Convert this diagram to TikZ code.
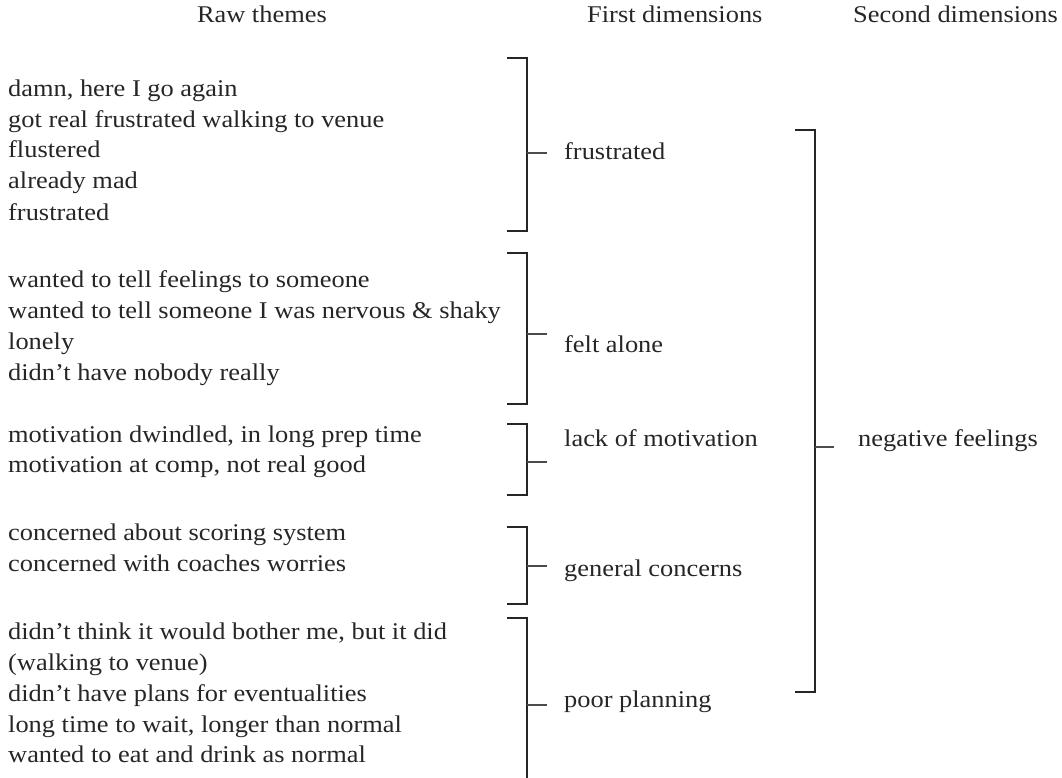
\documentclass[tikz,border=0pt]{standalone}
\usepackage{fontspec}
\setmainfont{Liberation Serif}[FakeStretch=1.1]
\usetikzlibrary{calc}
\begin{document}
\begin{tikzpicture}[x=1pt,y=-1pt,
  txt/.style={inner sep=0pt,font=\fontsize{24}{28}\selectfont,text=black!85},
  theme/.style={txt,anchor=base west},
  dimlabel/.style={txt,anchor=base west},
  brace/.style={draw=black!85,line width=1.4pt},
  stub/.style={draw=black!70,line width=1.2pt}]
\useasboundingbox (0,0) rectangle (1062,778);

% column headings
\node[txt,anchor=base east] (h1) at (327,23) {Raw themes};
\node[txt,anchor=base west] (h2) at (587,23) {First dimensions};
\node[txt,anchor=base east] (h3) at (1058,23) {Second dimensions};

% raw themes
\node[theme] (t1)  at (8,97)  {damn, here I go again};
\node[theme] (t2)  at (8,128) {got real frustrated walking to venue};
\node[theme] (t3)  at (8,158) {flustered};
\node[theme] (t4)  at (8,189) {already mad};
\node[theme] (t5)  at (8,220) {frustrated};
\node[theme] (t6)  at (8,287) {wanted to tell feelings to someone};
\node[theme] (t7)  at (8,318) {wanted to tell someone I was nervous \& shaky};
\node[theme] (t8)  at (8,349) {lonely};
\node[theme] (t9)  at (8,380) {didn't have nobody really};
\node[theme] (t10) at (8,442) {motivation dwindled, in long prep time};
\node[theme] (t11) at (8,472) {motivation at comp, not real good};
\node[theme] (t12) at (8,540) {concerned about scoring system};
\node[theme] (t13) at (8,571) {concerned with coaches worries};
\node[theme] (t14) at (8,639) {didn't think it would bother me, but it did};
\node[theme] (t15) at (8,670) {(walking to venue)};
\node[theme] (t16) at (8,701) {didn't have plans for eventualities};
\node[theme] (t17) at (8,732) {long time to wait, longer than normal};
\node[theme] (t18) at (8,762) {wanted to eat and drink as normal};

% first dimensions
\node[dimlabel] (d1) at (564,160) {frustrated};
\node[dimlabel] (d2) at (564,352) {felt alone};
\node[dimlabel] (d3) at (564,446) {lack of motivation};
\node[dimlabel] (d4) at (564,576) {general concerns};
\node[dimlabel] (d5) at (564,707) {poor planning};

% second dimension
\node[dimlabel] (s1) at (858,446) {negative feelings};

% bracket corners and stub ends
\coordinate (b1t) at (527,58);  \coordinate (b1b) at (527,231); \coordinate (b1m) at (527,153); \coordinate (b1e) at (547,153);
\coordinate (b2t) at (527,253); \coordinate (b2b) at (527,404); \coordinate (b2m) at (527,334); \coordinate (b2e) at (547,334);
\coordinate (b3t) at (527,424); \coordinate (b3b) at (527,495); \coordinate (b3m) at (527,462); \coordinate (b3e) at (547,462);
\coordinate (b4t) at (527,527); \coordinate (b4b) at (527,604); \coordinate (b4m) at (527,566); \coordinate (b4e) at (547,566);
\coordinate (b5t) at (527,618); \coordinate (b5b) at (527,790); \coordinate (b5m) at (527,705); \coordinate (b5e) at (547,705);
\coordinate (bNt) at (815,130); \coordinate (bNb) at (815,692); \coordinate (bNm) at (815,447); \coordinate (bNe) at (834,447);

% first-level brackets
\foreach \b in {b1,b2,b3,b4} {
  \draw[brace] ($(\b t)+(-20,0)$) -- (\b t) -- (\b b) -- ++(-20,0);
  \draw[stub] (\b m) -- (\b e);
}
\draw[brace] ($(b5t)+(-20,0)$) -- (b5t) -- (b5b);
\draw[stub] (b5m) -- (b5e);

% second-level bracket
\draw[brace] ($(bNt)+(-20,0)$) -- (bNt) -- (bNb) -- ++(-20,0);
\draw[stub] (bNm) -- (bNe);
\end{tikzpicture}
\end{document}
